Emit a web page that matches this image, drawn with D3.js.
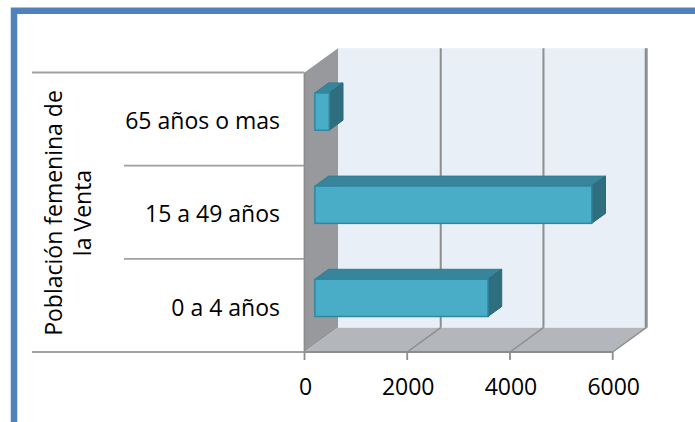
<!DOCTYPE html>
<html><head><meta charset="utf-8">
<script src="https://cdn.jsdelivr.net/npm/d3@7"></script>
<style>html,body{margin:0;padding:0;background:#fff;}svg{display:block;}</style>
</head><body>
<script>
const categories = ["0 a 4 años", "15 a 49 años", "65 años o mas"];
const values = [3370, 5390, 280];
const xTicks = [0, 2000, 4000, 6000];
const axisTitle = ["Población femenina de", "la Venta"];

(function () {
const W = 695, H = 422;
const svg = d3.select("body").append("svg").attr("width", W).attr("height", H);
svg.append("rect").attr("width", W).attr("height", H).attr("fill", "#fff");

const font = "'Open Sans', sans-serif";
const fs = 23;

// frame
svg.append("path").attr("d", "M14,422 V10.7 H695")
  .attr("fill", "none").attr("stroke", "#4F81BD").attr("stroke-width", 6.5);

const x = d3.scaleLinear().domain([0, 6000]).range([304.5, 612.7]);
const y = d3.scaleBand().domain(categories.slice().reverse()).range([72.5, 352]).paddingInner(0).paddingOuter(0);
const DX = 33.5, DY = -24.3;
const yTop = y.range()[0], yBot = y.range()[1];
const x0 = x(0), xMax = x(6000);

// back wall
svg.append("rect").attr("x", x0 + DX).attr("y", yTop + DY)
  .attr("width", xMax - x0).attr("height", yBot - yTop).attr("fill", "#E9EFF6");
// left wall
svg.append("polygon").attr("points", [[x0, yTop], [x0 + DX, yTop + DY], [x0 + DX, yBot + DY], [x0, yBot]].join(" "))
  .attr("fill", "#97999D");
// floor
svg.append("polygon").attr("points", [[x0, yBot], [xMax, yBot], [xMax + DX, yBot + DY], [x0 + DX, yBot + DY]].join(" "))
  .attr("fill", "#B3B6BA");

// gridlines on back wall and floor
xTicks.forEach((t, i) => {
  const xf = x(t);
  if (t !== 0) {
    svg.append("line").attr("x1", xf + DX).attr("x2", xf + DX).attr("y1", yTop + DY).attr("y2", yBot + DY)
      .attr("stroke", "#8E8E8E").attr("stroke-width", i === xTicks.length - 1 ? 3 : 2);
    svg.append("line").attr("x1", xf).attr("y1", yBot).attr("x2", xf + DX).attr("y2", yBot + DY)
      .attr("stroke", "#8E8E8E").attr("stroke-width", 1.5);
  }
});
// floor front edge
svg.append("line").attr("x1", x0).attr("x2", xMax).attr("y1", yBot).attr("y2", yBot)
  .attr("stroke", "#8C8C8C").attr("stroke-width", 1.8);
// vertical axis line (front edge of wall)
svg.append("line").attr("x1", x0).attr("x2", x0).attr("y1", yTop).attr("y2", yBot)
  .attr("stroke", "#8C8C8C").attr("stroke-width", 1.8);

// x ticks + labels
xTicks.forEach(t => {
  svg.append("line").attr("x1", x(t)).attr("x2", x(t)).attr("y1", yBot).attr("y2", yBot + 8)
    .attr("stroke", "#8C8C8C").attr("stroke-width", 1.8);
  svg.append("text").attr("x", x(t) + 1).attr("y", 394.5).attr("text-anchor", "middle")
    .attr("font-family", font).attr("font-size", fs).attr("fill", "#000").text(d3.format("d")(t));
});

// category separators
const bounds = [yTop].concat(y.domain().map(c => y(c) + y.bandwidth()));
bounds.forEach((b, i) => {
  const outer = (i === 0 || i === bounds.length - 1);
  svg.append("line").attr("x1", outer ? 32 : 124).attr("x2", x0).attr("y1", b).attr("y2", b)
    .attr("stroke", "#A0A0A0").attr("stroke-width", 1.8);
});

// category labels
categories.forEach(c => {
  svg.append("text").attr("x", 280).attr("y", y(c) + y.bandwidth() / 2 + 10.2)
    .attr("text-anchor", "end").attr("font-family", font).attr("font-size", fs).attr("fill", "#000").text(c);
});

// axis title (rotated, two lines)
const tx = [61.5, 90.7];
axisTitle.forEach((line, i) => {
  svg.append("text").attr("transform", `translate(${tx[i]},213) rotate(-90)`)
    .attr("text-anchor", "middle").attr("font-family", font).attr("font-size", fs).attr("fill", "#000").text(line);
});

// bars (3D)
const d1 = 0.31, d2 = 0.72;
const bh = y.bandwidth() / 2.5;
categories.forEach((c, i) => {
  const v = values[i];
  const yt = y(c) + (y.bandwidth() - bh) / 2;
  const fx0 = x(0) + d1 * DX, fx1 = x(v) + d1 * DX;
  const fy0 = yt + d1 * DY, fy1 = yt + bh + d1 * DY;
  const ox = (d2 - d1) * DX, oy = (d2 - d1) * DY;
  const g = svg.append("g");
  g.append("polygon").attr("points", [[fx0, fy0], [fx1, fy0], [fx1 + ox, fy0 + oy], [fx0 + ox, fy0 + oy]].join(" "))
    .attr("fill", "#37849B").attr("stroke", "#2E7C92").attr("stroke-width", 1);
  g.append("polygon").attr("points", [[fx1, fy0], [fx1 + ox, fy0 + oy], [fx1 + ox, fy1 + oy], [fx1, fy1]].join(" "))
    .attr("fill", "#2F6E7E").attr("stroke", "#2C6878").attr("stroke-width", 1);
  g.append("rect").attr("x", fx0).attr("y", fy0).attr("width", fx1 - fx0).attr("height", fy1 - fy0)
    .attr("fill", "#4AADC7").attr("stroke", "#2E88A2").attr("stroke-width", 1.5);
});
})();
</script>
</body></html>
